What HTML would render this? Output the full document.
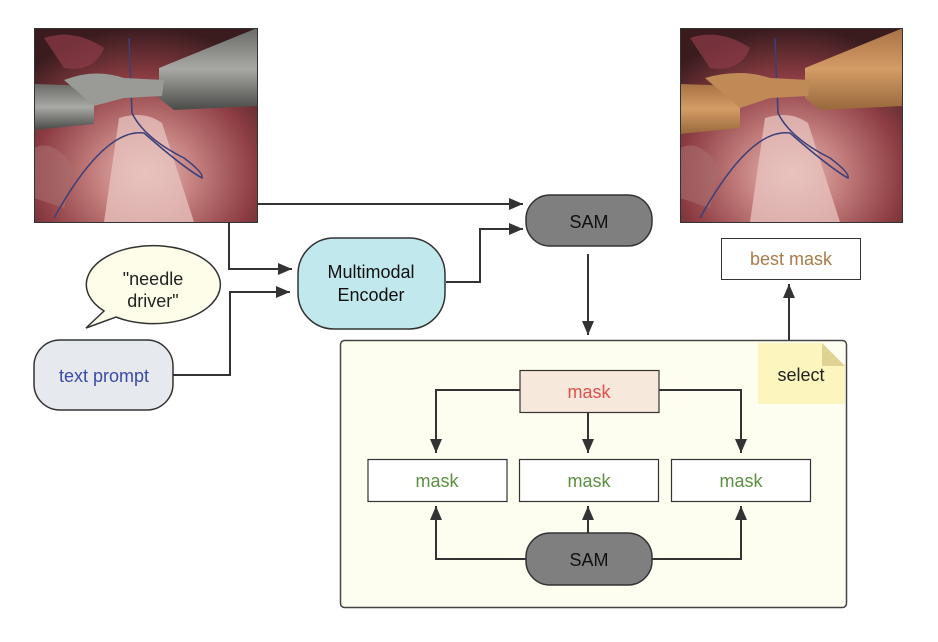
<!DOCTYPE html>
<html><head><meta charset="utf-8"><style>
html,body{margin:0;padding:0;background:#fff;}
svg{display:block;}
text{font-family:"Liberation Sans","DejaVu Sans",sans-serif;}
</style></head><body>
<svg width="938" height="642" viewBox="0 0 938 642" xmlns="http://www.w3.org/2000/svg">
<defs>
<marker id="ah" viewBox="0 0 14 12" refX="14" refY="6" markerWidth="14" markerHeight="12" markerUnits="userSpaceOnUse" orient="auto">
<path d="M0,0 L14,6 L0,12 z" fill="#333"/></marker>
<radialGradient id="tis" cx="0.5" cy="0.75" r="0.75">
<stop offset="0" stop-color="#e8bcb8"/><stop offset="0.3" stop-color="#c4807e"/><stop offset="0.65" stop-color="#8e3e44"/><stop offset="1" stop-color="#3a1c1f"/></radialGradient>
<linearGradient id="gry" x1="0" y1="0" x2="0" y2="1"><stop offset="0" stop-color="#6a6a68"/><stop offset="0.5" stop-color="#a8a8a4"/><stop offset="1" stop-color="#4a4a48"/></linearGradient>
<linearGradient id="org" x1="0" y1="0" x2="0" y2="1"><stop offset="0" stop-color="#a87244"/><stop offset="0.5" stop-color="#d49c66"/><stop offset="1" stop-color="#98683c"/></linearGradient>
<g id="tissue">
<rect x="0" y="0" width="223" height="194" fill="url(#tis)"/>
<path d="M85,90 Q110,82 128,95 L160,194 L70,194 Z" fill="#e8c4c0" opacity="0.75"/>
<path d="M10,10 Q40,0 70,20 Q60,45 30,40 Z" fill="#8e3c48" opacity="0.7"/>
<path d="M0,120 Q20,110 40,140 L30,180 L0,170 Z" fill="#a86c6e" opacity="0.6"/>
<path d="M95,10 L98,85 Q110,110 150,130 Q170,145 168,150 Q150,140 110,105 Q70,100 20,190" fill="none" stroke="#3c3f7a" stroke-width="1.5"/>
</g>
</defs>

<g transform="translate(34,28)">
<use href="#tissue"/>
<path d="M125,40 L223,0 L223,78 L140,82 L125,70 Z" fill="url(#gry)"/>
<path d="M0,56 L60,58 L60,96 L0,102 Z" fill="url(#gry)"/>
<path d="M30,52 Q60,40 90,50 L130,52 L128,68 L90,70 L60,78 Z" fill="#9a9a96"/>
</g>
<rect x="34.5" y="28.5" width="223" height="194" fill="none" stroke="#333" stroke-width="1"/>

<g transform="translate(680,28)">
<use href="#tissue"/>
<path d="M125,40 L223,0 L223,78 L140,82 L125,70 Z" fill="url(#org)"/>
<path d="M0,56 L60,58 L60,100 L0,106 Z" fill="url(#org)"/>
<path d="M25,50 Q60,40 90,50 L130,52 L128,68 L90,70 L60,80 Z" fill="#c08a56"/>
</g>
<rect x="680.5" y="28.5" width="222" height="194" fill="none" stroke="#333" stroke-width="1"/>

<g fill="none" stroke="#333" stroke-width="2">
<path d="M257,204 L523,204" marker-end="url(#ah)"/>
<path d="M446,282 L480,282 L480,229 L523,229" marker-end="url(#ah)"/>
<path d="M229,222 L229,269 L292,269" marker-end="url(#ah)"/>
<path d="M173,375 L230,375 L230,292 L290,292" marker-end="url(#ah)"/>
<path d="M588,254 L588,335" marker-end="url(#ah)"/>
<path d="M789,340 L789,284" marker-end="url(#ah)"/>
</g>

<rect x="526" y="195" width="126" height="51" rx="24" fill="#7f7f7f" stroke="#333" stroke-width="1.5"/>
<text x="589" y="228" font-size="18" text-anchor="middle" fill="#111">SAM</text>

<rect x="298" y="238" width="147" height="91" rx="36" fill="#c1e8ec" stroke="#333" stroke-width="1.5"/>
<text x="371" y="278" font-size="18" text-anchor="middle" fill="#111">Multimodal</text>
<text x="371" y="301" font-size="18" text-anchor="middle" fill="#111">Encoder</text>

<path d="M104,311 A67,39 0 1 1 116,317 L86,328 Z" fill="#fdfde9" stroke="#333" stroke-width="1.5"/>
<text x="153" y="285" font-size="18" text-anchor="middle" fill="#222">"needle</text>
<text x="153" y="307" font-size="18" text-anchor="middle" fill="#222">driver"</text>

<rect x="34" y="340" width="139" height="70" rx="26" fill="#e6e9ee" stroke="#333" stroke-width="1.5"/>
<text x="104" y="382" font-size="18" text-anchor="middle" fill="#3a4aa8">text prompt</text>

<rect x="721.5" y="238.5" width="139" height="41" fill="#fff" stroke="#333" stroke-width="1"/>
<text x="791" y="265" font-size="18" text-anchor="middle" fill="#a87a48">best mask</text>

<rect x="340.5" y="340.5" width="506" height="267" rx="4" fill="#fefef0" stroke="#444" stroke-width="1.5"/>

<path d="M758,343 L822,343 L845,366 L845,404 L758,404 Z" fill="#fcf5be"/>
<path d="M822,343 L845,366 L822,366 Z" fill="#e0d292"/>
<text x="801" y="381" font-size="18" text-anchor="middle" fill="#222">select</text>

<g fill="none" stroke="#333" stroke-width="2">
<path d="M520,390 L436,390 L436,453" marker-end="url(#ah)"/>
<path d="M659,390 L741,390 L741,453" marker-end="url(#ah)"/>
<path d="M588,412 L588,453" marker-end="url(#ah)"/>
<path d="M526,559 L436,559 L436,506" marker-end="url(#ah)"/>
<path d="M652,559 L741,559 L741,506" marker-end="url(#ah)"/>
<path d="M588,533 L588,506" marker-end="url(#ah)"/>
</g>

<rect x="520" y="370.5" width="139" height="42" fill="#f6e8da" stroke="#333" stroke-width="1.2"/>
<text x="589" y="398" font-size="18" text-anchor="middle" fill="#e05050">mask</text>

<rect x="368" y="459.5" width="139" height="42" fill="#fff" stroke="#333" stroke-width="1.2"/>
<text x="437" y="487" font-size="18" text-anchor="middle" fill="#5a9040">mask</text>
<rect x="519.5" y="459.5" width="139" height="42" fill="#fff" stroke="#333" stroke-width="1.2"/>
<text x="589" y="487" font-size="18" text-anchor="middle" fill="#5a9040">mask</text>
<rect x="671.5" y="459.5" width="139" height="42" fill="#fff" stroke="#333" stroke-width="1.2"/>
<text x="741" y="487" font-size="18" text-anchor="middle" fill="#5a9040">mask</text>

<rect x="526" y="533" width="126" height="52" rx="24" fill="#7f7f7f" stroke="#333" stroke-width="1.5"/>
<text x="589" y="566" font-size="18" text-anchor="middle" fill="#111">SAM</text>
</svg>
</body></html>
